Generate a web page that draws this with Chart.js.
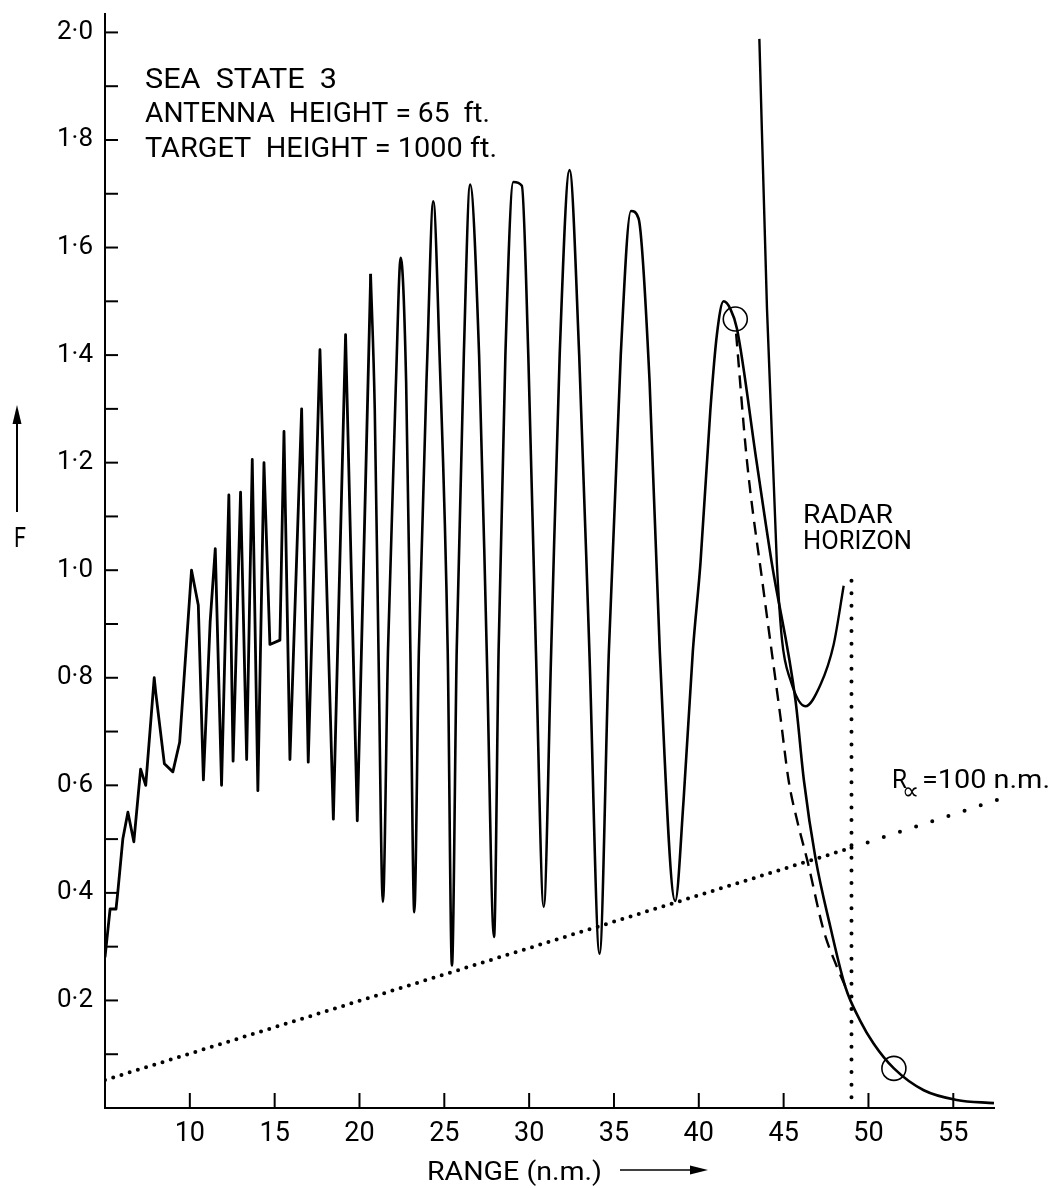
<!DOCTYPE html>
<html lang="en">
<head>
  <meta charset="UTF-8">
  <title>F against range, sea state 3</title>
  <script src="https://cdn.jsdelivr.net/npm/chart.js"></script>
  <style>
    html, body { margin: 0; padding: 0; background: #fff; }
  </style>
</head>
<body>
  <canvas id="fChart" width="1060" height="1188"></canvas>
  <script>
    // Main curve, short-range part with tight lobes (range in n.m., F)
    const rangeNear = [
      5.0, 5.2, 5.3, 5.65, 5.75, 6.05, 6.35, 6.7, 7.1, 7.4,
      7.9, 8.0, 8.5, 9.0, 9.4, 10.1, 10.5, 10.8, 11.2, 11.5,
      11.87, 12.3, 12.55, 12.99, 13.35, 13.68, 14.01, 14.37, 14.72, 15.31,
      15.55, 15.9, 16.59, 16.98, 17.67, 18.46, 19.18, 19.87, 20.66
    ];
    const fNear = [
      0.28, 0.34, 0.37, 0.37, 0.40, 0.50, 0.55, 0.495, 0.63, 0.60,
      0.80, 0.77, 0.64, 0.625, 0.68, 1.0, 0.935, 0.61, 0.905, 1.04,
      0.60, 1.14, 0.645, 1.145, 0.648, 1.206, 0.59, 1.20, 0.862, 0.87,
      1.258, 0.648, 1.30, 0.643, 1.41, 0.537, 1.438, 0.534, 1.551
    ];
    // Main curve, wide lobes and the fall past the horizon
    const rangeFar = [
      20.66, 20.9, 21.12, 21.38, 21.68, 22.15, 22.43, 22.75, 23.0, 23.23, 23.5,
      24.0, 24.35, 24.72, 25.2, 25.45, 25.73, 26.15, 26.52, 27.05, 27.5,
      27.93, 28.2, 28.6, 29.07, 29.57, 29.95, 30.4, 30.86, 31.3, 31.8,
      32.38, 32.95, 33.55, 34.15, 34.7, 35.4, 36.0, 36.45, 37.1, 37.7,
      38.61, 39.1, 39.65, 40.1, 40.68, 41.07, 41.46, 41.86, 42.25, 43.4,
      44.3, 45.7, 46.2, 46.87, 47.76, 48.64, 49.5, 50.3, 51.5, 53.26,
      55.2, 57.4
    ];
    const fFar = [
      1.551, 1.30, 0.85, 0.383, 0.85, 1.35, 1.581, 1.35, 0.85, 0.364, 0.85,
      1.40, 1.686, 1.40, 0.85, 0.265, 0.85, 1.40, 1.717, 1.40, 0.85,
      0.318, 0.85, 1.40, 1.722, 1.715, 1.40, 0.85, 0.374, 0.85, 1.40,
      1.744, 1.40, 0.85, 0.287, 0.85, 1.40, 1.668, 1.654, 1.35, 0.85,
      0.385, 0.571, 0.85, 1.014, 1.297, 1.439, 1.50, 1.486, 1.449, 1.203,
      1.014, 0.758, 0.608, 0.466, 0.336, 0.225, 0.163, 0.12, 0.0736, 0.033,
      0.015, 0.009
    ];

    // dashed branch leaving the first circle
    const rangeDashed = [42.2, 42.84, 43.8, 44.8, 45.3, 45.8, 46.4, 47.36, 48.15, 48.74];
    const fDashed = [1.44, 1.203, 0.966, 0.73, 0.608, 0.534, 0.46, 0.33, 0.262, 0.219];

    // steep curve that comes down from the top and turns up at the horizon
    const rangeSteep = [43.57, 44.02, 44.6, 44.9, 45.4, 46.28, 47.17, 47.95, 48.54];
    const fSteep = [1.988, 1.486, 1.014, 0.872, 0.796, 0.747, 0.787, 0.862, 0.971];

    // R = 100 n.m. dotted line (dense part, then sparse part past the horizon)
    const rangeDotsNear = [5.0, 49.0];
    const fDotsNear = [0.052, 0.484];
    const rangeDotsFar = [49.0, 57.7];
    const fDotsFar = [0.484, 0.574];

    // radar horizon
    const rangeHorizon = [49.0, 49.0];
    const fHorizon = [0.02, 0.99];

    // circled points
    const rangeCircles = [42.15, 51.5];
    const fCircles = [1.467, 0.0736];

    const rangeTicks = [10, 15, 20, 25, 30, 35, 40, 45, 50, 55];
    const fTicks = [0, 0.1, 0.2, 0.3, 0.4, 0.5, 0.6, 0.7, 0.8, 0.9, 1.0,
                    1.1, 1.2, 1.3, 1.4, 1.5, 1.6, 1.7, 1.8, 1.9, 2.0];

    const FONT = 'Roboto, "DejaVu Sans", sans-serif';

    function pts(xs, ys) {
      return xs.map((x, i) => ({ x: x, y: ys[i] }));
    }

    // draw text squeezed to a given width
    function fitText(ctx, text, x, y, width) {
      const w = ctx.measureText(text).width;
      ctx.save();
      ctx.translate(x, y);
      ctx.scale(width / w, 1);
      ctx.fillText(text, 0, 0);
      ctx.restore();
    }

    function noEdgePadding(s) {
      s.paddingTop = 0;
      s.paddingBottom = 0;
      s.paddingLeft = 0;
      s.paddingRight = 0;
    }

    const decor = {
      id: 'decor',
      beforeDraw(chart) {
        const c = chart.ctx;
        c.save();
        c.fillStyle = '#fff';
        c.fillRect(0, 0, chart.width, chart.height);
        c.restore();
      },
      afterDraw(chart) {
        const c = chart.ctx;
        const area = chart.chartArea;
        const xs = chart.scales.x, ys = chart.scales.y;
        c.save();
        c.strokeStyle = '#000';
        c.fillStyle = '#000';
        c.lineWidth = 2;

        // inward ticks on F axis every 0.1
        ys.ticks.forEach(t => {
          if (t.value <= 0) return;
          const py = ys.getPixelForValue(t.value);
          c.beginPath();
          c.moveTo(area.left, py);
          c.lineTo(area.left + 13, py);
          c.stroke();
        });
        // inward ticks on range axis
        xs.ticks.forEach(t => {
          const px = xs.getPixelForValue(t.value);
          c.beginPath();
          c.moveTo(px, area.bottom);
          c.lineTo(px, area.bottom - 15);
          c.stroke();
        });

        c.textBaseline = 'alphabetic';
        c.textAlign = 'left';
        c.font = '28px ' + FONT;
        fitText(c, 'SEA  STATE  3', 145, 88, 192);
        fitText(c, 'ANTENNA  HEIGHT = 65  ft.', 145, 122, 345);
        fitText(c, 'TARGET  HEIGHT = 1000 ft.', 145, 157, 352);

        c.font = '25px ' + FONT;
        fitText(c, 'RADAR', 803, 523, 90);
        fitText(c, 'HORIZON', 803, 549, 109);

        // R alpha label
        fitText(c, 'R', 892, 788, 15);
        c.font = '24px ' + FONT;
        c.fillText('\u221D', 902, 799);
        c.font = '25px ' + FONT;
        fitText(c, '=100 n.m.', 922, 788, 128);

        c.font = '27px ' + FONT;
        fitText(c, 'F', 14, 547, 12);
        c.font = '25px ' + FONT;
        fitText(c, 'RANGE (n.m.)', 427, 1180, 175);

        // arrows
        c.lineWidth = 2;
        c.beginPath();
        c.moveTo(17, 512);
        c.lineTo(17, 420);
        c.stroke();
        c.beginPath();
        c.moveTo(17, 405);
        c.lineTo(12.5, 424);
        c.lineTo(21.5, 424);
        c.closePath();
        c.fill();

        c.lineWidth = 1.5;
        c.beginPath();
        c.moveTo(620, 1170);
        c.lineTo(694, 1170);
        c.stroke();
        c.beginPath();
        c.moveTo(708, 1170);
        c.lineTo(690, 1165.5);
        c.lineTo(690, 1174.5);
        c.closePath();
        c.fill();
        c.restore();
      }
    };

    const chart = new Chart(document.getElementById('fChart'), {
      type: 'scatter',
      data: {
        datasets: [
          {
            label: 'F (short range)',
            data: pts(rangeNear, fNear),
            showLine: true,
            borderColor: '#000',
            borderWidth: 2.8,
            borderJoinStyle: 'round',
            pointRadius: 0,
            tension: 0
          },
          {
            label: 'F',
            data: pts(rangeFar, fFar),
            showLine: true,
            borderColor: '#000',
            borderWidth: 2.6,
            pointRadius: 0,
            cubicInterpolationMode: 'monotone'
          },
          {
            label: 'dashed',
            data: pts(rangeDashed, fDashed),
            showLine: true,
            borderColor: '#000',
            borderWidth: 2.4,
            borderDash: [13, 8],
            pointRadius: 0,
            cubicInterpolationMode: 'monotone'
          },
          {
            label: 'steep',
            data: pts(rangeSteep, fSteep),
            showLine: true,
            borderColor: '#000',
            borderWidth: 2.4,
            pointRadius: 0,
            cubicInterpolationMode: 'monotone'
          },
          {
            label: 'R = 100 n.m.',
            data: pts(rangeDotsNear, fDotsNear),
            showLine: true,
            borderColor: '#000',
            borderWidth: 4,
            borderCapStyle: 'round',
            borderDash: [0, 8.6],
            pointRadius: 0
          },
          {
            label: 'R = 100 n.m. far',
            data: pts(rangeDotsFar, fDotsFar),
            showLine: true,
            borderColor: '#000',
            borderWidth: 4,
            borderCapStyle: 'round',
            borderDash: [0, 17],
            pointRadius: 0,
            clip: false
          },
          {
            label: 'radar horizon',
            data: pts(rangeHorizon, fHorizon),
            showLine: true,
            borderColor: '#000',
            borderWidth: 4,
            borderCapStyle: 'round',
            borderDash: [0, 12.6],
            pointRadius: 0
          },
          {
            label: 'circles',
            data: pts(rangeCircles, fCircles),
            showLine: false,
            pointStyle: 'circle',
            pointRadius: 12,
            pointBorderWidth: 1.6,
            pointBorderColor: '#000',
            pointBackgroundColor: 'rgba(0,0,0,0)'
          }
        ]
      },
      options: {
        responsive: false,
        devicePixelRatio: 1,
        animation: false,
        layout: { padding: { top: 10, right: 66, left: 0, bottom: 0 } },
        plugins: {
          legend: { display: false },
          tooltip: { enabled: false }
        },
        scales: {
          x: {
            type: 'linear',
            min: 5,
            max: 57.4,
            grid: { display: false, drawTicks: false },
            border: { display: true, color: '#000', width: 2 },
            afterBuildTicks: s => { s.ticks = rangeTicks.map(v => ({ value: v })); },
            ticks: {
              autoSkip: false,
              maxRotation: 0,
              padding: 10,
              color: '#000',
              font: { family: FONT, size: 27 },
              callback: v => String(v)
            },
            afterFit: s => { s.height = 80; noEdgePadding(s); }
          },
          y: {
            type: 'linear',
            min: 0,
            max: 2.035,
            grid: { display: false, drawTicks: false },
            border: { display: true, color: '#000', width: 2 },
            afterBuildTicks: s => { s.ticks = fTicks.map(v => ({ value: v })); },
            ticks: {
              autoSkip: false,
              padding: 12,
              color: '#000',
              font: { family: FONT, size: 26 },
              callback: v => {
                const k = Math.round(v * 10);
                if (k === 0 || k % 2 !== 0) return '';
                return (k / 10).toFixed(1).replace('.', '\u00B7');
              }
            },
            afterFit: s => { s.width = 105; noEdgePadding(s); }
          }
        }
      },
      plugins: [decor]
    });
  </script>
</body>
</html>
